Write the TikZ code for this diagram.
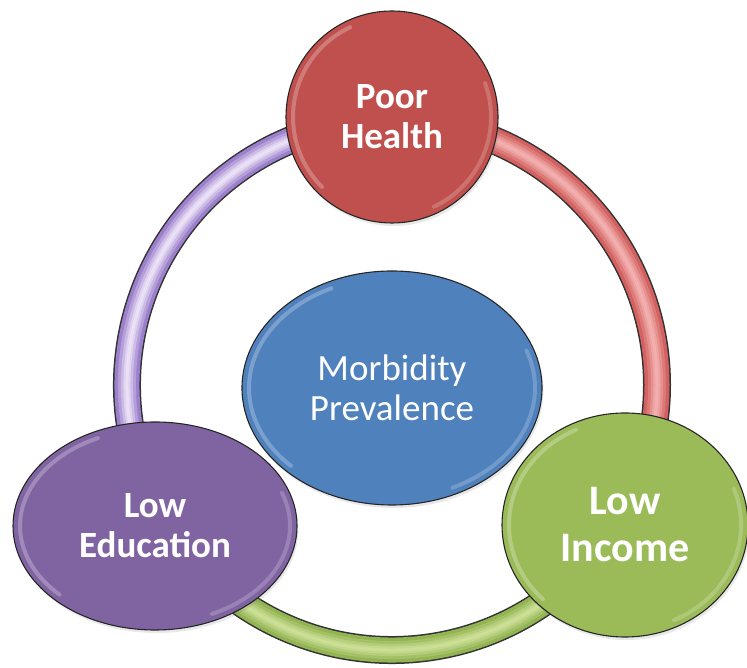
\documentclass[tikz,border=0pt]{standalone}
\usepackage{fontspec}
\setmainfont{Carlito}
\usetikzlibrary{shapes.geometric,calc,shadows}

\definecolor{redfill}{HTML}{C0504D}
\definecolor{greenfill}{HTML}{9BBB59}
\definecolor{purplefill}{HTML}{8064A2}
\definecolor{bluefill}{HTML}{4F81BD}
\definecolor{ringred}{HTML}{D26160}
\definecolor{ringredhi}{HTML}{F4B4B3}
\definecolor{ringgreen}{HTML}{93B452}
\definecolor{ringgreenhi}{HTML}{CFE29A}
\definecolor{ringpurple}{HTML}{9C80CC}
\definecolor{ringpurplehi}{HTML}{F0E7FA}

% glossy rim highlights inside an ellipse node: node, x radius, y radius
\newcommand\sheen[3]{%
  \begin{scope}[shift={(#1.center)}]
    \draw[white, opacity=.25, line width=4pt, line cap=round]
      (115:#2 and #3) arc[start angle=115, end angle=225, x radius=#2, y radius=#3];
    \draw[white, opacity=.2, line width=4pt, line cap=round]
      (-65:#2 and #3) arc[start angle=-65, end angle=20, x radius=#2, y radius=#3];
  \end{scope}}

\begin{document}
\begin{tikzpicture}[x=1pt, y=1pt,
  bubble/.style={ellipse, draw=black!85, line width=1.1pt, text=white,
    align=center, inner sep=0pt,
    drop shadow={opacity=.18, shadow xshift=1.5pt, shadow yshift=-3pt}},
  boldtext/.style={font=\bfseries\fontsize{37}{40}\selectfont},
  bigtext/.style={font=\bfseries\fontsize{42}{47}\selectfont},
  plaintext/.style={font=\fontsize{37}{40}\selectfont},
]
\useasboundingbox (0,0) rectangle (747,668);

% the ring, in three coloured segments with a soft tubular highlight
\coordinate (hub) at (392,283);
\def\ringR{265}
\foreach \a/\b/\c/\h in {90/-31/ringred/ringredhi,
                         -31/-149/ringgreen/ringgreenhi,
                         -149/-270/ringpurple/ringpurplehi}{
  \draw[black!80, line width=28pt] ($(hub)+(\a:\ringR)$)
    arc[start angle=\a, end angle=\b, radius=\ringR];
  \draw[\c, line width=25pt] ($(hub)+(\a:\ringR)$)
    arc[start angle=\a, end angle=\b, radius=\ringR];
  \foreach \w/\o in {18/.3, 12/.4, 7/.55, 3/.7}{
    \draw[\h, line width=\w pt, opacity=\o] ($(hub)+(\a:\ringR)$)
      arc[start angle=\a, end angle=\b, radius=\ringR];
  }
}

% centre
\node[bubble, fill=bluefill, minimum width=300pt, minimum height=234pt, plaintext]
  (core) at (392,280) {Morbidity\\Prevalence};
\sheen{core}{143}{110}

% outer nodes on the ring
\node[bubble, fill=redfill, minimum width=212pt, minimum height=212pt, boldtext]
  (health) at (392,551) {Poor\\Health};
\sheen{health}{99}{99}

\node[bubble, fill=greenfill, minimum width=246pt, minimum height=224pt, bigtext]
  (income) at (625,143) {Low\\Income};
\sheen{income}{116}{105}

\node[bubble, fill=purplefill, minimum width=284pt, minimum height=208pt, boldtext]
  (education) at (155,142) {Low\\Education};
\sheen{education}{135}{97}
\end{tikzpicture}
\end{document}
